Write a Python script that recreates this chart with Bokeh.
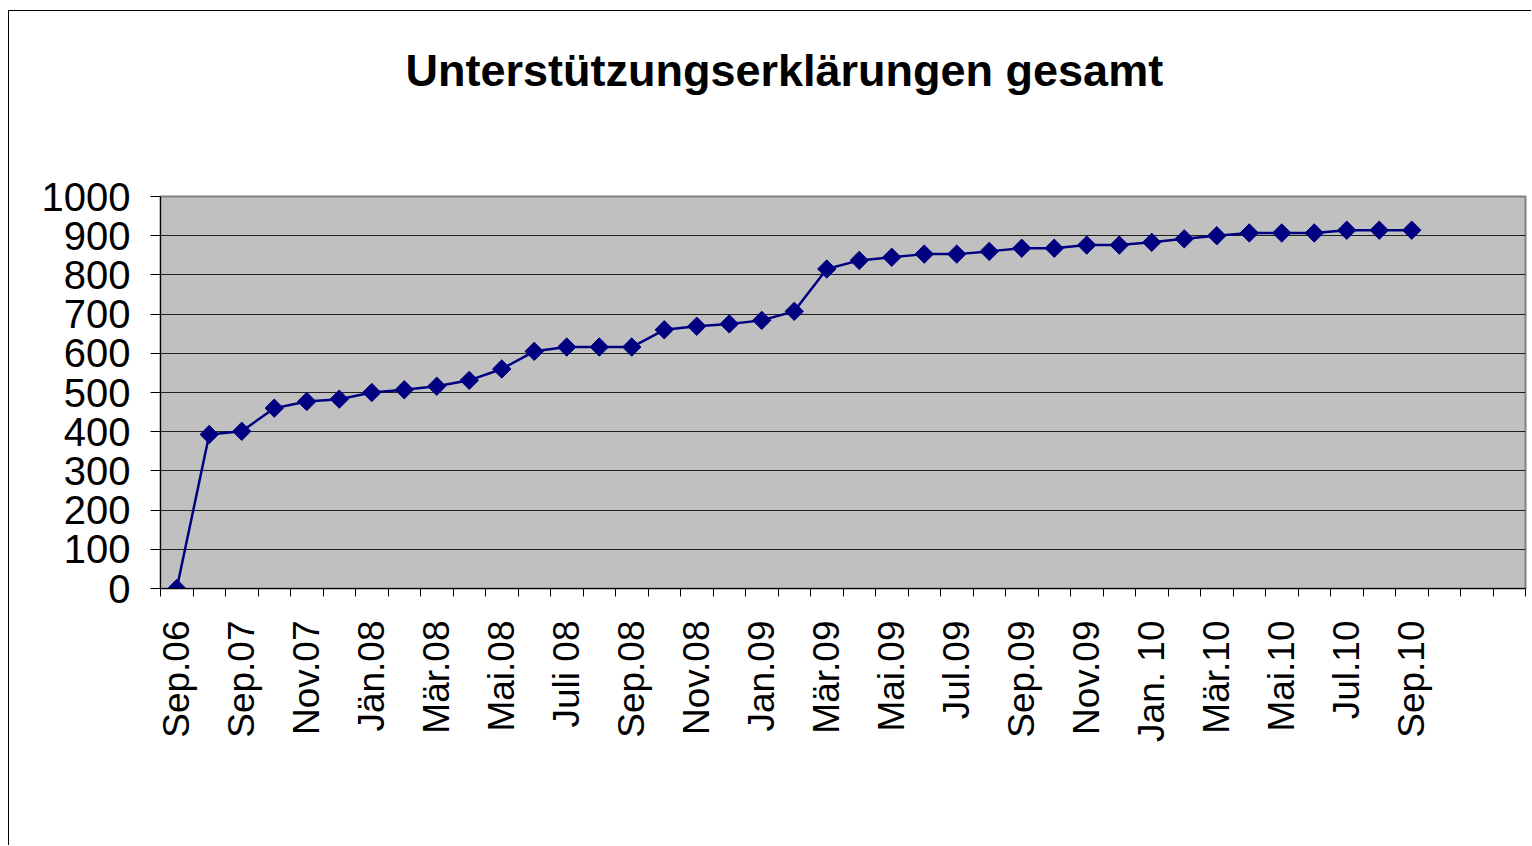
import numpy as np
from bokeh.plotting import figure
from bokeh.models import FixedTicker, Range1d, Title
from bokeh.embed import file_html
from bokeh.resources import INLINE

# ---- data ----
title_text = "Unterstützungserklärungen gesamt"
values = [0, 393, 401, 460, 477, 483, 500, 507, 516, 531, 560, 605, 616, 616, 616,
          660, 669, 675, 684, 707, 815, 837, 845, 853, 853, 860, 868, 868, 876,
          876, 883, 892, 900, 907, 907, 907, 914, 914, 914]
n_categories = 42
tick_labels = ["Sep.06", "Sep.07", "Nov.07", "Jän.08", "Mär.08", "Mai.08", "Juli 08",
               "Sep.08", "Nov.08", "Jan.09", "Mär.09", "Mai.09", "Jul.09", "Sep.09",
               "Nov.09", "Jan. 10", "Mär.10", "Mai.10", "Jul.10", "Sep.10"]
y_ticks = list(range(0, 1001, 100))

x = list(range(len(values)))
label_pos = list(range(0, 2 * len(tick_labels), 2))
boundaries = [i - 0.5 for i in range(n_categories + 1)]

FONT = "Liberation Sans"

p = figure(width=1523, height=835,
           x_range=Range1d(-0.5, n_categories - 0.5), y_range=Range1d(0, 1000),
           output_backend="svg", toolbar_location=None,
           min_border_left=151, min_border_right=7, min_border_top=185,
           min_border_bottom=258, title=title_text)
p.styles = {"border-left": "1px solid black", "border-top": "1px solid black",
            "margin-left": "8px", "margin-top": "10px"}

p.title.text_font = FONT
p.title.text_font_size = "45px"
p.title.text_font_style = "bold"
p.title.text_color = "black"
p.title.align = "left"
p.title.offset = 245
p.title.standoff = 10

# empty spacer between the frame and the title
spacer = Title(text=" ", text_font_size="10px", standoff=83)
p.add_layout(spacer, "above")

p.background_fill_color = "#C0C0C0"
p.border_fill_color = "white"
p.outline_line_color = "#808080"
p.outline_line_width = 2

p.xgrid.grid_line_color = None
p.ygrid.grid_line_color = "#202020"
p.ygrid.grid_line_width = 1
p.ygrid.ticker = FixedTicker(ticks=y_ticks)

xa = p.xaxis[0]
xa.ticker = FixedTicker(ticks=label_pos, minor_ticks=boundaries)
xa.major_label_overrides = {pos: lbl for pos, lbl in zip(label_pos, tick_labels)}
xa.major_label_orientation = np.pi / 2
xa.major_tick_out = 0
xa.major_tick_in = 0
xa.minor_tick_out = 8
xa.minor_tick_in = 0
xa.minor_tick_line_color = "black"
xa.axis_line_color = "black"
xa.major_label_text_font = FONT
xa.major_label_text_font_size = "37px"
xa.major_label_text_color = "black"
xa.major_label_standoff = 24

ya = p.yaxis[0]
ya.ticker = FixedTicker(ticks=y_ticks)
ya.major_tick_out = 10
ya.major_tick_in = 0
ya.minor_tick_line_color = None
ya.axis_line_color = "black"
ya.major_tick_line_color = "black"
ya.major_label_text_font = FONT
ya.major_label_text_font_size = "40px"
ya.major_label_text_color = "black"
ya.major_label_standoff = 20

p.line(x, values, line_color="#000080", line_width=2.5)
p.scatter(x, values, marker="square", size=13, angle=np.pi / 4,
          fill_color="#000080", line_color="#000080")

open("out.html", "w").write(file_html(p, INLINE))
